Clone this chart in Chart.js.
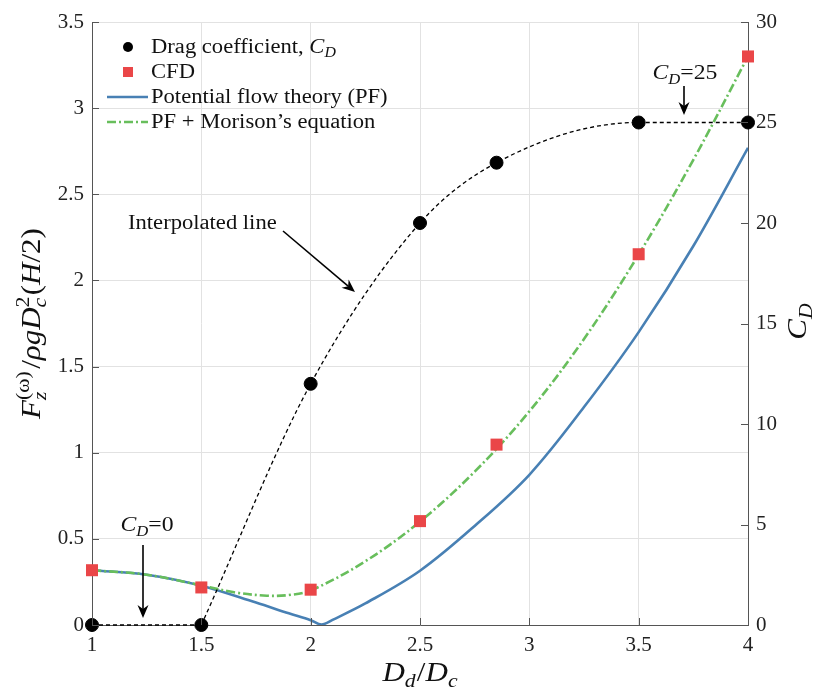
<!DOCTYPE html>
<html>
<head>
<meta charset="utf-8">
<script src="https://cdn.jsdelivr.net/npm/chart.js@4.4.1/dist/chart.umd.min.js"></script>
<style>
  html, body { margin: 0; padding: 0; background: #fff; }
  #wrap { position: relative; width: 813px; height: 693px; }
</style>
</head>
<body>
<div id="wrap"><canvas id="c" width="813" height="693"></canvas></div>
<script>
// Drag coefficient C_D (right axis) at each diameter ratio
const cdX = [1, 1.5, 2, 2.5, 2.85, 3.5, 4];
const cdY = [0, 0, 12, 20, 23, 25, 25];

// CFD force results (left axis)
const cfdX = [1, 1.5, 2, 2.5, 2.85, 3.5, 4];
const cfdY = [0.318, 0.218, 0.205, 0.603, 1.047, 2.152, 3.30];

// Potential flow theory (PF)
const pfX = [1, 1.25, 1.5, 1.75, 1.9, 2.0, 2.05, 2.1, 2.25, 2.5, 2.75, 3.0, 3.25, 3.5, 3.75, 4.0];
const pfY = [0.318, 0.292, 0.228, 0.13, 0.068, 0.028, 0.003, 0.03, 0.125, 0.315, 0.575, 0.872, 1.265, 1.70, 2.20, 2.77];

// PF + Morison's equation
const pmX = [1, 1.25, 1.5, 1.65, 1.8, 1.9, 2.0, 2.25, 2.5, 2.75, 3.0, 3.25, 3.5, 3.75, 4.0];
const pmY = [0.318, 0.292, 0.23, 0.19, 0.17, 0.174, 0.2, 0.37, 0.60, 0.89, 1.24, 1.66, 2.15, 2.70, 3.30];

// Axis ticks
const xTicks = [1, 1.5, 2, 2.5, 3, 3.5, 4];
const yTicks = [0, 0.5, 1, 1.5, 2, 2.5, 3, 3.5];
const y2Ticks = [0, 5, 10, 15, 20, 25, 30];

const FONT = "'Liberation Serif', 'Times New Roman', serif";
const BLUE = 'rgb(72,128,180)';
const GREEN = 'rgb(104,190,92)';
const RED = 'rgb(234,70,72)';

const pts = (xs, ys) => xs.map((x, i) => ({ x, y: ys[i] }));

// Rich text: pieces of italic/upright text with sub/superscripts
function layoutRich(ctx, parts, S) {
  let x = 0, prevStart = 0;
  const items = [];
  for (const p of parts) {
    const sz = p.pos ? S * 0.7 : S;
    const font = (p.it ? 'italic ' : '') + sz + 'px ' + FONT;
    ctx.font = font;
    const w = ctx.measureText(p.t).width;
    let start;
    if (p.stack) { start = prevStart; x = Math.max(x, start + w); }
    else { start = x + (p.gap || 0); x = start + w; }
    let dy = 0;
    if (p.pos === 'sub') dy = S * 0.22;
    if (p.pos === 'sup') dy = -S * 0.42;
    items.push({ t: p.t, font, x: start, dy });
    prevStart = start;
  }
  return { items, width: x };
}
// k stretches the text horizontally (wider serif look)
function drawRich(ctx, parts, S, x, y, align, k) {
  k = k || 1;
  const L = layoutRich(ctx, parts, S);
  const W = L.width * k;
  let x0 = x;
  if (align === 'center') x0 = x - W / 2;
  if (align === 'right') x0 = x - W;
  ctx.save();
  ctx.translate(x0, y);
  ctx.scale(k, 1);
  ctx.textBaseline = 'alphabetic';
  ctx.textAlign = 'left';
  for (const it of L.items) {
    ctx.font = it.font;
    ctx.fillText(it.t, it.x, it.dy);
  }
  ctx.restore();
  return W;
}

function arrow(ctx, x1, y1, x2, y2) {
  const ang = Math.atan2(y2 - y1, x2 - x1);
  const len = 13, half = 5.5, back = 9;
  ctx.save();
  ctx.strokeStyle = '#000';
  ctx.fillStyle = '#000';
  ctx.lineWidth = 1.6;
  ctx.setLineDash([]);
  ctx.beginPath();
  ctx.moveTo(x1, y1);
  ctx.lineTo(x2 - Math.cos(ang) * back, y2 - Math.sin(ang) * back);
  ctx.stroke();
  ctx.translate(x2, y2);
  ctx.rotate(ang);
  ctx.beginPath();
  ctx.moveTo(0, 0);
  ctx.lineTo(-len, -half);
  ctx.lineTo(-back, 0);
  ctx.lineTo(-len, half);
  ctx.closePath();
  ctx.fill();
  ctx.restore();
}

const CD = [{ t: 'C', it: true }, { t: 'D', it: true, pos: 'sub' }];

const decor = {
  id: 'decor',
  afterDraw(chart) {
    const ctx = chart.ctx;
    const xs = chart.scales.x, ys = chart.scales.y, y2s = chart.scales.y2;
    const a = chart.chartArea;
    ctx.save();
    // inward tick marks
    ctx.strokeStyle = '#555';
    ctx.lineWidth = 1;
    ctx.beginPath();
    for (const v of xTicks) {
      const px = Math.round(xs.getPixelForValue(v)) + 0.5;
      ctx.moveTo(px, a.bottom); ctx.lineTo(px, a.bottom - 7);
    }
    for (const v of yTicks) {
      const py = Math.round(ys.getPixelForValue(v)) + 0.5;
      ctx.moveTo(a.left, py); ctx.lineTo(a.left + 7, py);
    }
    for (const v of y2Ticks) {
      const py = Math.round(y2s.getPixelForValue(v)) + 0.5;
      ctx.moveTo(a.right, py); ctx.lineTo(a.right - 7, py);
    }
    ctx.stroke();

    // legend
    const LS = 20, K = 1.13;
    const lx = 128, tx = 151;
    const rows = [47, 72, 97, 122];
    ctx.beginPath(); ctx.arc(lx, rows[0], 5, 0, Math.PI * 2); ctx.fillStyle = '#000'; ctx.fill();
    ctx.fillStyle = RED; ctx.fillRect(lx - 5, rows[1] - 5, 10, 10);
    ctx.lineWidth = 2.5;
    ctx.strokeStyle = BLUE; ctx.setLineDash([]);
    ctx.beginPath(); ctx.moveTo(107, rows[2]); ctx.lineTo(148, rows[2]); ctx.stroke();
    ctx.strokeStyle = GREEN; ctx.setLineDash([9, 3, 2, 3]);
    ctx.beginPath(); ctx.moveTo(107, rows[3]); ctx.lineTo(148, rows[3]); ctx.stroke();
    ctx.setLineDash([]);
    ctx.fillStyle = '#111';
    drawRich(ctx, [{ t: 'Drag coefficient, ' }].concat(CD), LS, tx, rows[0] + 6, 'left', K);
    drawRich(ctx, [{ t: 'CFD' }], LS, tx, rows[1] + 6, 'left', K);
    drawRich(ctx, [{ t: 'Potential flow theory (PF)' }], LS, tx, rows[2] + 6, 'left', K);
    drawRich(ctx, [{ t: 'PF + Morison\u2019s equation' }], LS, tx, rows[3] + 6, 'left', K);

    // annotations
    drawRich(ctx, [{ t: 'Interpolated line' }], LS, 128, 229, 'left', K);
    arrow(ctx, 283, 231, 355, 292);
    drawRich(ctx, CD.concat([{ t: '=0' }]), 21, 147, 531, 'center', K);
    arrow(ctx, 143, 545, 143, 618);
    drawRich(ctx, CD.concat([{ t: '=25' }]), 21, 685, 79, 'center', K);
    arrow(ctx, 684, 86, 684, 115);

    // axis titles
    const TS = 27, TK = 1.15;
    drawRich(ctx, [{ t: 'D', it: true }, { t: 'd', it: true, pos: 'sub' }, { t: '/', gap: 1 }, { t: 'D', it: true }, { t: 'c', it: true, pos: 'sub' }],
      TS, (a.left + a.right) / 2, 681, 'center', TK);

    ctx.save();
    ctx.translate(40, (a.top + a.bottom) / 2);
    ctx.rotate(-Math.PI / 2);
    drawRich(ctx, [
      { t: 'F', it: true },
      { t: 'z', it: true, pos: 'sub' },
      { t: '(\u03C9)', pos: 'sup', stack: true },
      { t: '/', gap: 2 },
      { t: '\u03C1gD', it: true },
      { t: 'c', it: true, pos: 'sub' },
      { t: '2', pos: 'sup', stack: true },
      { t: '(', gap: 1 },
      { t: 'H', it: true },
      { t: '/2)' }
    ], TS, 0, 0, 'center', TK);
    ctx.restore();

    ctx.save();
    ctx.translate(806, (a.top + a.bottom) / 2 - 2);
    ctx.rotate(-Math.PI / 2);
    drawRich(ctx, CD, TS, 0, 0, 'center', TK);
    ctx.restore();

    ctx.restore();
  }
};

const tickFont = { family: FONT, size: 21 };
const fmt = v => String(v);

new Chart(document.getElementById('c'), {
  type: 'line',
  data: {
    datasets: [
      {
        label: 'Drag coefficient',
        data: pts(cdX, cdY),
        yAxisID: 'y2',
        showLine: false,
        pointStyle: 'circle',
        pointRadius: 6.5,
        pointBackgroundColor: '#000',
        pointBorderColor: '#000',
        clip: false
      },
      {
        label: 'CFD',
        data: pts(cfdX, cfdY),
        yAxisID: 'y',
        showLine: false,
        pointStyle: 'rect',
        pointRadius: 8.5,
        pointBackgroundColor: RED,
        pointBorderColor: RED,
        pointBorderWidth: 0,
        clip: false
      },
      {
        label: 'Interpolated line',
        data: pts(cdX.slice(1), cdY.slice(1)),
        yAxisID: 'y2',
        borderColor: '#000',
        borderWidth: 1.3,
        borderDash: [4, 3],
        pointRadius: 0,
        cubicInterpolationMode: 'monotone',
        clip: false
      },
      {
        label: 'C_D = 0',
        data: pts(cdX.slice(0, 2), cdY.slice(0, 2)),
        yAxisID: 'y2',
        borderColor: '#000',
        borderWidth: 1.3,
        borderDash: [4, 3],
        pointRadius: 0,
        clip: false
      },
      {
        label: 'PF + Morison',
        data: pts(pmX, pmY),
        yAxisID: 'y',
        borderColor: GREEN,
        borderWidth: 2.6,
        borderDash: [9, 3, 2, 3],
        pointRadius: 0,
        tension: 0.35
      },
      {
        label: 'PF',
        data: pts(pfX, pfY),
        yAxisID: 'y',
        borderColor: BLUE,
        borderWidth: 2.6,
        pointRadius: 0,
        tension: 0.35
      }
    ]
  },
  options: {
    responsive: false,
    animation: false,
    layout: { padding: { top: 22, left: 0, right: 0, bottom: 0 } },
    plugins: { legend: { display: false }, tooltip: { enabled: false } },
    scales: {
      x: {
        type: 'linear', min: 1, max: 4,
        afterBuildTicks: s => { s.ticks = xTicks.map(v => ({ value: v })); },
        afterFit: s => { s.height = 68; },
        grid: { color: 'rgb(226,226,226)', drawTicks: false },
        border: { color: '#555', width: 1 },
        ticks: { font: tickFont, color: '#222', padding: 8, callback: fmt }
      },
      y: {
        position: 'left', min: 0, max: 3.5,
        afterBuildTicks: s => { s.ticks = yTicks.map(v => ({ value: v })); },
        afterFit: s => { s.width = 92; },
        grid: { color: 'rgb(226,226,226)', drawTicks: false },
        border: { color: '#555', width: 1 },
        ticks: { font: tickFont, color: '#222', padding: 8, callback: fmt }
      },
      y2: {
        position: 'right', min: 0, max: 30,
        afterBuildTicks: s => { s.ticks = y2Ticks.map(v => ({ value: v })); },
        afterFit: s => { s.width = 65; },
        grid: { display: false, drawTicks: false },
        border: { color: '#555', width: 1 },
        ticks: { font: tickFont, color: '#222', padding: 8, callback: fmt }
      }
    }
  },
  plugins: [decor]
});
</script>
</body>
</html>
